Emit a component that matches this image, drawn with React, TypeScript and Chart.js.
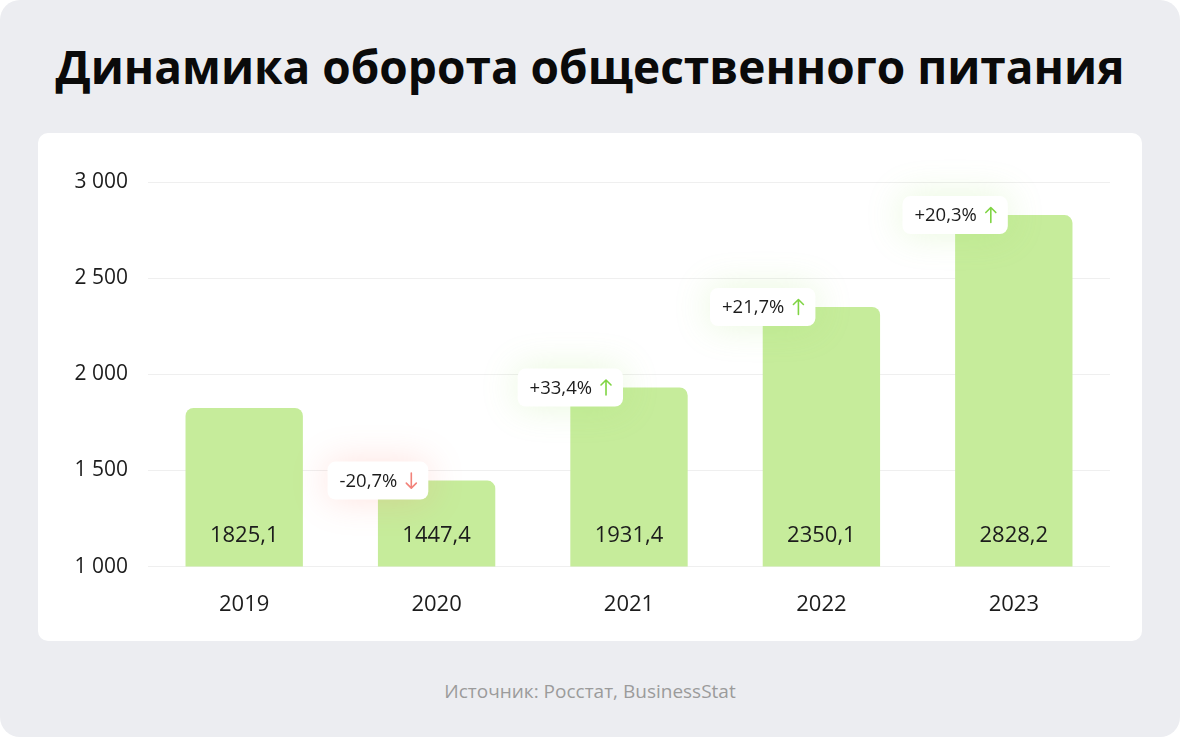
import React, { useEffect, useRef } from "react";
import { Chart, registerables } from "chart.js";

Chart.register(...registerables);

const categories = ["2019", "2020", "2021", "2022", "2023"];
const values = [1825.1, 1447.4, 1931.4, 2350.1, 2828.2];
const changes: (number | null)[] = [null, -20.7, 33.4, 21.7, 20.3];
const yMin = 1000;
const yMax = 3000;
const yStep = 500;

const FONT = '"Open Sans", "Noto Sans", sans-serif';

const fmtDec = (v: number) => v.toFixed(1).replace(".", ",");
const fmtThousands = (v: number) =>
  String(Math.round(v)).replace(/\B(?=(\d{3})+(?!\d))/g, " ");

const labelPlugin = {
  id: "barLabels",
  afterDatasetsDraw(chart: any) {
    const ctx = chart.ctx as CanvasRenderingContext2D;
    const meta = chart.getDatasetMeta(0);
    const bottom = chart.scales.y.getPixelForValue(yMin);
    meta.data.forEach((bar: any, i: number) => {
      const x = bar.x;
      const y = bar.y;
      const width = bar.width;
      ctx.save();
      ctx.font = `400 22px ${FONT}`;
      ctx.fillStyle = "#1c1c1c";
      ctx.textAlign = "center";
      ctx.textBaseline = "middle";
      ctx.fillText(fmtDec(values[i]), x, bottom - 31);
      ctx.restore();

      const ch = changes[i];
      if (ch == null) return;
      const up = ch > 0;
      const text = (up ? "+" : "") + fmtDec(ch) + "%";
      ctx.save();
      ctx.font = `400 18.5px ${FONT}`;
      const tw = ctx.measureText(text).width;
      const padX = 12;
      const gap = 9;
      const arrowW = 10;
      const w = padX + tw + gap + arrowW + padX;
      const h = 38;
      const left = x - width / 2;
      const bx = left - w / 2;
      const by = y - h / 2;
      ctx.shadowColor = up ? "rgba(150,225,90,0.22)" : "rgba(255,120,100,0.22)";
      ctx.shadowBlur = 36;
      ctx.fillStyle = "#ffffff";
      ctx.beginPath();
      (ctx as any).roundRect(bx, by, w, h, 8);
      ctx.fill();
      ctx.shadowColor = "transparent";
      ctx.shadowBlur = 0;
      ctx.fillStyle = "#1c1c1c";
      ctx.textAlign = "left";
      ctx.textBaseline = "middle";
      ctx.fillText(text, bx + padX, by + h / 2 + 1);
      const ax = bx + padX + tw + gap + arrowW / 2;
      const top = by + h / 2 - 7.5;
      const bot = by + h / 2 + 7.5;
      ctx.strokeStyle = up ? "#7fd443" : "#f2827a";
      ctx.lineWidth = 1.6;
      ctx.lineCap = "round";
      ctx.lineJoin = "round";
      ctx.beginPath();
      ctx.moveTo(ax, top);
      ctx.lineTo(ax, bot);
      if (up) {
        ctx.moveTo(ax - 5, top + 5);
        ctx.lineTo(ax, top);
        ctx.lineTo(ax + 5, top + 5);
      } else {
        ctx.moveTo(ax - 5, bot - 5);
        ctx.lineTo(ax, bot);
        ctx.lineTo(ax + 5, bot - 5);
      }
      ctx.stroke();
      ctx.restore();
    });
  },
};

export default function App() {
  const ref = useRef<HTMLCanvasElement | null>(null);

  useEffect(() => {
    if (!ref.current) return;
    const chart = new Chart(ref.current, {
      type: "bar",
      data: {
        labels: categories,
        datasets: [
          {
            data: values,
            backgroundColor: "#c6ec9b",
            borderRadius: 8,
            borderSkipped: "bottom",
            categoryPercentage: 1,
            barPercentage: 0.61,
          },
        ],
      },
      options: {
        animation: false,
        responsive: false,
        maintainAspectRatio: false,
        layout: { padding: { left: 32, right: 32, top: 49, bottom: 6 } },
        plugins: {
          legend: { display: false },
          tooltip: { enabled: false },
        },
        scales: {
          x: {
            grid: { display: false },
            border: { display: false },
            ticks: {
              color: "#1c1c1c",
              font: { family: FONT, size: 22 },
              padding: 17,
            },
          },
          y: {
            min: yMin,
            max: yMax,
            border: { display: false },
            grid: { color: "#efefef", drawTicks: false, lineWidth: 1 },
            afterFit: (scale: any) => {
              scale.width = 78;
            },
            ticks: {
              stepSize: yStep,
              color: "#1c1c1c",
              font: { family: FONT, size: 21 },
              padding: 20,
              callback: (v: any) => fmtThousands(Number(v)),
            },
          },
        },
      },
      plugins: [labelPlugin],
    });
    return () => chart.destroy();
  }, []);

  return (
    <div
      style={{
        position: "fixed",
        left: 0,
        top: 0,
        width: 1180,
        height: 737,
        background: "#ffffff",
      }}
    >
      <div
        style={{
          position: "absolute",
          inset: 0,
          background: "#ecedf1",
          borderRadius: 20,
        }}
      />
      <div
        style={{
          position: "absolute",
          left: 0,
          width: 1180,
          top: 34,
          textAlign: "center",
          fontFamily: FONT,
          fontWeight: 700,
          fontSize: 46,
          lineHeight: "64px",
          color: "#0a0a0a",
        }}
      >
        Динамика оборота общественного питания
      </div>
      <div
        style={{
          position: "absolute",
          left: 38,
          top: 133,
          width: 1104,
          height: 508,
          background: "#ffffff",
          borderRadius: 10,
        }}
      >
        <canvas ref={ref} width={1104} height={508} style={{ display: "block" }} />
      </div>
      <div
        style={{
          position: "absolute",
          left: 0,
          width: 1180,
          top: 678,
          textAlign: "center",
          fontFamily: FONT,
          fontSize: 19,
          lineHeight: "26px",
          color: "#9b9b9b",
        }}
      >
        Источник: Росстат, BusinessStat
      </div>
    </div>
  );
}
